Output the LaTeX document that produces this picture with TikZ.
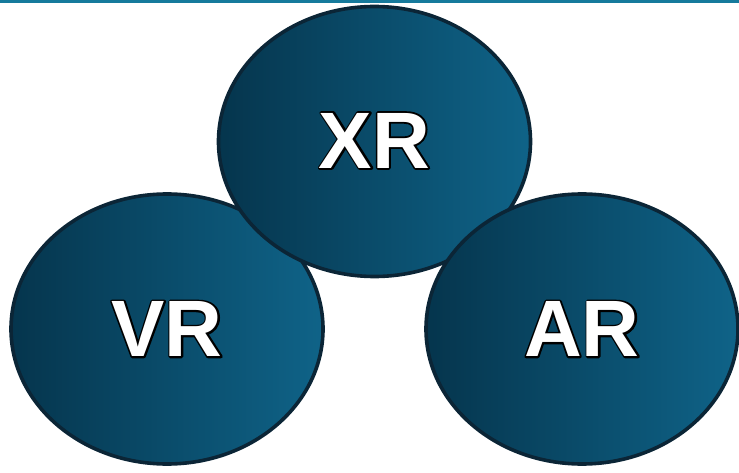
\documentclass[tikz,border=0pt]{standalone}
\usepackage{fontspec}
\setmainfont{Liberation Sans}
\usetikzlibrary{shapes.geometric}
\definecolor{topline}{HTML}{167A9C}
\definecolor{gleft}{HTML}{05354D}
\definecolor{gright}{HTML}{0F6388}
\definecolor{edge}{HTML}{0B2536}
\newcommand\outlinedtext[1]{\rlap{\special{pdf:literal 1 Tr 3.6 w 1 j 0 0 0 RG}#1\special{pdf:literal 0 Tr}}#1}
\begin{document}
\begin{tikzpicture}[x=1pt,y=1pt,
  blob/.style={ellipse, draw=edge, line width=3.6pt, left color=gleft, right color=gright,
     minimum width=312pt, minimum height=270pt, inner sep=0pt},
  lbl/.style={font=\fontsize{80}{80}\bfseries\selectfont, text=white}]
\useasboundingbox (0,0) rectangle (739,472);
\coordinate (tl) at (0,470.5);
\coordinate (tr) at (739,470.5);
\draw[topline, line width=3pt] (tl) -- (tr);
\node[blob] (vr) at (167,143) {};
\node[blob] (xr) at (374.5,330.5) {};
\node[blob] (ar) at (582,143) {};
\node[lbl] (tvr) at (vr.center) {\outlinedtext{VR}};
\node[lbl] (txr) at ([yshift=1pt]xr.center) {\outlinedtext{XR}};
\node[lbl] (tar) at (ar.center) {\outlinedtext{AR}};
\end{tikzpicture}
\end{document}
